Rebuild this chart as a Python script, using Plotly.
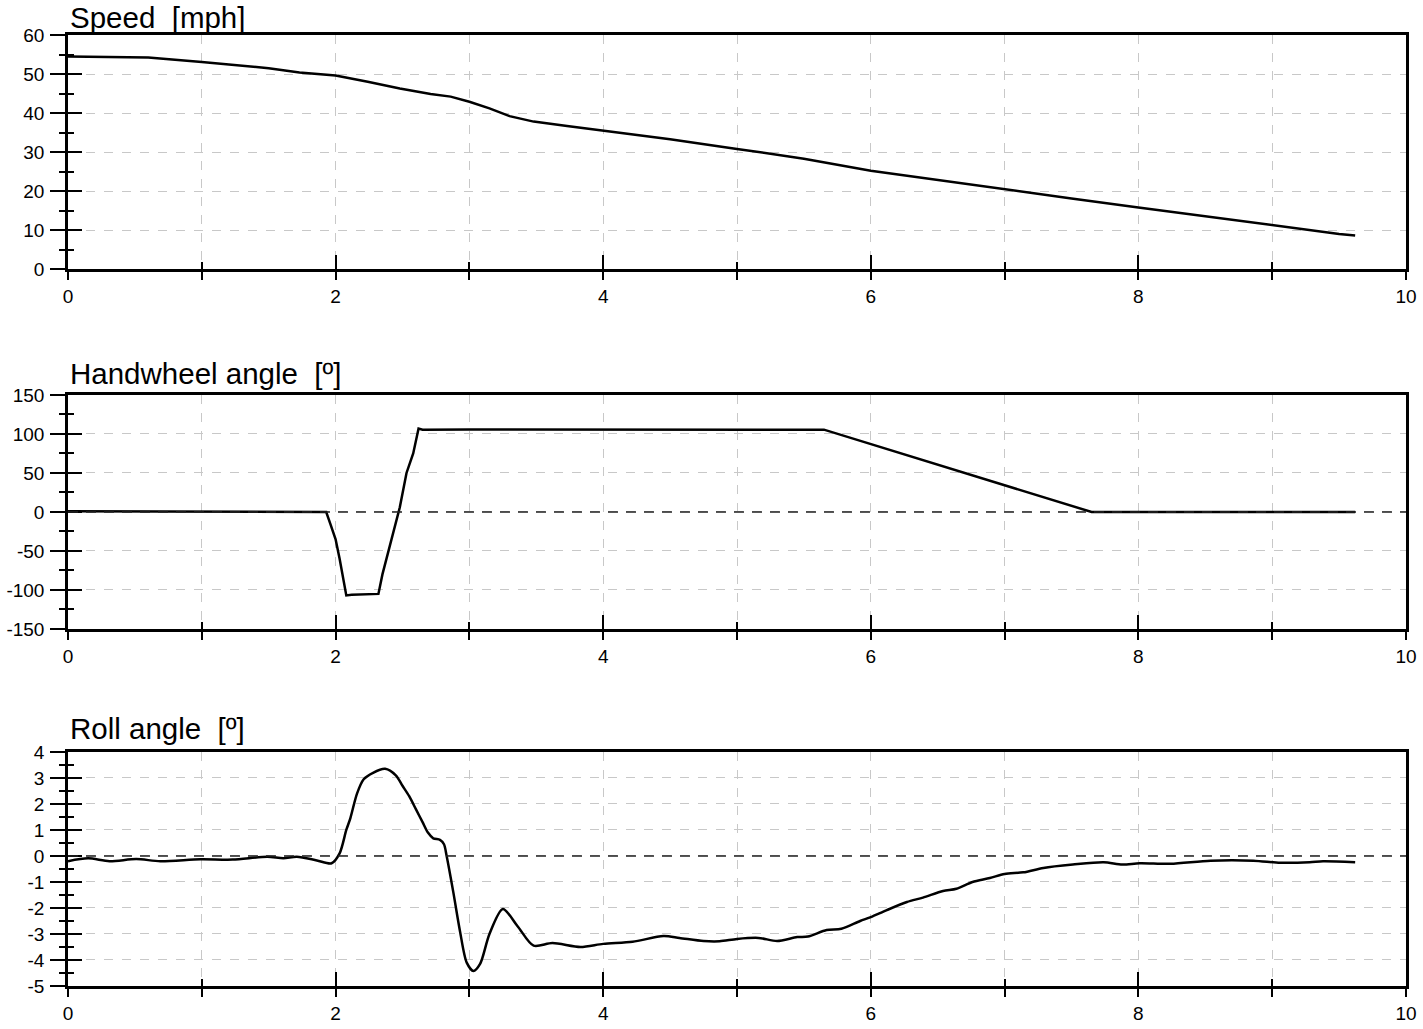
import plotly.graph_objects as go

# ---------------- data ----------------
speed_t = [0, 0.3, 0.6, 1.0, 1.5, 1.73, 2.0, 2.24, 2.48, 2.71, 2.86, 3.0, 3.15, 3.3, 3.48,
           3.73, 3.98, 4.5, 5.0, 5.5, 6.0, 6.5, 7.0, 7.5, 8.0, 8.5, 9.0, 9.5, 9.62]
speed_v = [54.5, 54.4, 54.2, 53.1, 51.5, 50.4, 49.6, 48.0, 46.3, 44.9, 44.2, 42.9, 41.2, 39.2, 37.8,
           36.7, 35.6, 33.3, 30.8, 28.3, 25.2, 22.8, 20.5, 18.1, 15.8, 13.5, 11.2, 9.0, 8.6]

hw_t = [0, 0.55, 1.93, 1.96, 2.0, 2.03, 2.08, 2.12, 2.2, 2.32, 2.35, 2.39, 2.43, 2.46, 2.48,
        2.53, 2.58, 2.62, 2.65, 3.0, 5.65, 7.65, 9.62]
hw_v = [1, 0.5, 0, -15, -35, -60, -107, -106, -105.5, -105, -80, -53, -25, -6, 6,
        50, 75, 107, 105.5, 105.7, 105.5, 0, 0]

roll_t = [0, 0.15, 0.31, 0.51, 0.69, 0.99, 1.23, 1.49, 1.61, 1.71, 1.86, 1.97, 2.03, 2.08, 2.11,
          2.16, 2.21, 2.28, 2.37, 2.45, 2.5, 2.55, 2.6, 2.65, 2.69, 2.73, 2.78, 2.81, 2.83, 2.88, 2.93,
          2.98, 3.03, 3.08, 3.15, 3.25, 3.36, 3.48, 3.62, 3.83, 4.0, 4.22, 4.45, 4.57, 4.75, 4.87,
          5.0, 5.16, 5.3, 5.45, 5.53, 5.67, 5.78, 5.92, 6.0, 6.12, 6.27, 6.39, 6.54, 6.64, 6.76,
          6.89, 7.0, 7.14, 7.29, 7.51, 7.74, 7.88, 8.01, 8.24, 8.54, 8.86, 9.06, 9.28, 9.38, 9.62]
roll_v = [-0.2, -0.09, -0.2, -0.12, -0.2, -0.13, -0.14, -0.03, -0.09, -0.03, -0.17, -0.28, 0.1, 1.0, 1.45,
          2.4, 2.95, 3.2, 3.35, 3.1, 2.7, 2.3, 1.8, 1.3, 0.9, 0.68, 0.62, 0.45, 0.0, -1.4, -2.9,
          -4.1, -4.42, -4.15, -3.0, -2.04, -2.7, -3.45, -3.35, -3.5, -3.38, -3.3, -3.08, -3.15, -3.27, -3.28,
          -3.19, -3.15, -3.27, -3.12, -3.1, -2.85, -2.8, -2.5, -2.35, -2.08, -1.77, -1.6, -1.35, -1.26, -1.0,
          -0.85, -0.69, -0.63, -0.46, -0.33, -0.24, -0.33, -0.28, -0.3, -0.18, -0.18, -0.26, -0.24, -0.2, -0.24]

titles = ["Speed\u00a0\u00a0[mph]", "Handwheel angle\u00a0\u00a0[º]", "Roll angle\u00a0\u00a0[º]"]
x_ticks = [0, 2, 4, 6, 8, 10]
x_ticklabels = ["0", "2", "4", "6", "8", "10"]
speed_ticks = [0, 10, 20, 30, 40, 50, 60]
speed_ticklabels = ["0", "10", "20", "30", "40", "50", "60"]
hw_ticks = [-150, -100, -50, 0, 50, 100, 150]
hw_ticklabels = ["-150", "-100", "-50", "0", "50", "100", "150"]
roll_ticks = [-5, -4, -3, -2, -1, 0, 1, 2, 3, 4]
roll_ticklabels = ["-5", "-4", "-3", "-2", "-1", "0", "1", "2", "3", "4"]

y_ranges = [[0, 60], [-150, 150], [-5, 4]]
y_tickvals = [speed_ticks, hw_ticks, roll_ticks]
y_ticktext = [speed_ticklabels, hw_ticklabels, roll_ticklabels]
y_dticks = [10, 50, 1]
y_minor = [5, 25, 0.5]
x_range = [0, 10]

# ---------------- layout constants ----------------
FONT = "Arial, Liberation Sans, sans-serif"
domains = [[0.7539, 1.0], [0.3754, 0.6215], [0.0, 0.2461]]
title_shift = [-1, 3, 5]

fig = go.Figure()

series = [(speed_t, speed_v, "linear"), (hw_t, hw_v, "linear"), (roll_t, roll_v, "spline")]

for i, (t, v, shape) in enumerate(series):
    n = i + 1
    xa = "x" if n == 1 else f"x{n}"
    ya = "y" if n == 1 else f"y{n}"
    fig.add_trace(go.Scatter(x=t, y=v, mode="lines", xaxis=xa, yaxis=ya,
                             line=dict(color="black", width=2.5, shape=shape, smoothing=0.8),
                             showlegend=False, hoverinfo="skip"))
    ox, oy = n + 3, n + 3
    fig.add_trace(go.Scatter(x=[None], y=[None], mode="lines", xaxis=f"x{ox}", yaxis=f"y{oy}",
                             showlegend=False, hoverinfo="skip"))

axis_common = dict(showline=True, linecolor="black", color="black", automargin=False,
                   tickfont=dict(family=FONT, size=19, color="black"))

for i in range(3):
    n = i + 1
    xkey = "xaxis" if n == 1 else f"xaxis{n}"
    ykey = "yaxis" if n == 1 else f"yaxis{n}"
    yref = "y" if n == 1 else f"y{n}"
    xref = "x" if n == 1 else f"x{n}"
    fig.layout[xkey] = dict(
        axis_common, domain=[0, 1], anchor=yref, range=x_range,
        tickmode="array", tickvals=x_ticks, ticktext=x_ticklabels,
        ticks="outside", ticklen=8, tickwidth=2, tickcolor="black",
        linewidth=2.5, mirror=True, showgrid=True, gridcolor="#c8c8c8", griddash="dash",
        gridwidth=1, zeroline=False, ticklabelstandoff=0,
        minor=dict(dtick=1, tick0=0, ticks="outside", ticklen=8, tickwidth=2, tickcolor="black",
                   showgrid=True, gridcolor="#c8c8c8", griddash="dash", gridwidth=1),
    )
    fig.layout[ykey] = dict(
        axis_common, domain=domains[i], anchor=xref, range=y_ranges[i],
        tickmode="array", tickvals=y_tickvals[i], ticktext=y_ticktext[i],
        ticks="outside", ticklen=15, tickwidth=2, tickcolor="black",
        linewidth=2.5, mirror=True, showgrid=True, gridcolor="#c8c8c8", griddash="dash",
        gridwidth=1, zeroline=False, ticklabelstandoff=2,
        minor=dict(dtick=y_minor[i], tick0=0, ticks="outside", ticklen=6, tickwidth=2,
                   tickcolor="black", showgrid=False),
    )
    ox, oy = n + 3, n + 3
    fig.layout[f"xaxis{ox}"] = dict(
        overlaying=xref, anchor=yref, range=x_range, dtick=2, tick0=0, automargin=False,
        ticks="inside", ticklen=14, tickwidth=2, tickcolor="black",
        showticklabels=False, showgrid=False, showline=False, zeroline=False,
        minor=dict(dtick=1, tick0=0, ticks="inside", ticklen=7, tickwidth=2, tickcolor="black",
                   showgrid=False),
    )
    fig.layout[f"yaxis{oy}"] = dict(
        overlaying=yref, anchor=xref, range=y_ranges[i], dtick=y_dticks[i], tick0=0,
        automargin=False,
        ticks="inside", ticklen=14, tickwidth=2, tickcolor="black",
        showticklabels=False, showgrid=False, showline=False, zeroline=False,
        minor=dict(dtick=y_minor[i], tick0=0, ticks="inside", ticklen=6, tickwidth=2,
                   tickcolor="black", showgrid=False),
    )
    fig.add_annotation(text=titles[i], xref="paper", yref="paper", x=0, y=domains[i][1],
                       xanchor="left", yanchor="bottom", showarrow=False, xshift=0,
                       yshift=title_shift[i],
                       font=dict(family=FONT, size=29.5, color="black"))

# dashed zero reference lines on handwheel and roll panels
for n in (2, 3):
    fig.add_shape(type="line", xref=f"x{n} domain", yref=f"y{n}", x0=0, x1=1, y0=0, y1=0,
                  line=dict(color="#222222", width=1.5, dash="10px,8px"), layer="above")

fig.update_layout(
    width=1423, height=1029,
    margin=dict(l=68, r=17, t=35, b=43, autoexpand=False),
    paper_bgcolor="white", plot_bgcolor="white",
    font=dict(family=FONT, color="black"),
    showlegend=False,
)

fig.write_html("out.html")
